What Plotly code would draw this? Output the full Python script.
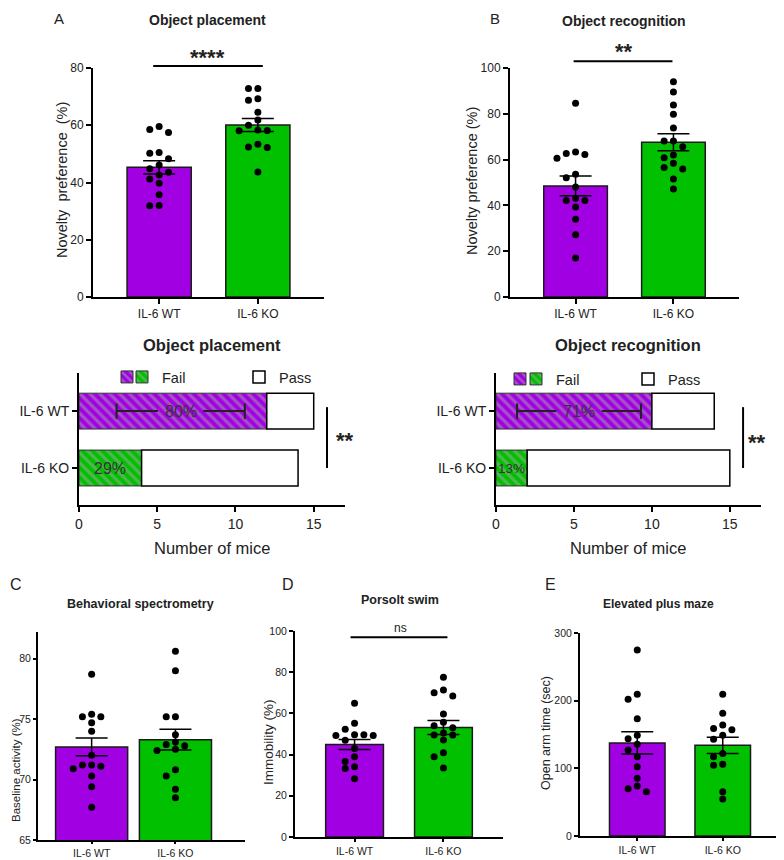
import plotly.graph_objects as go

# the page body keeps an 8px margin, so the figure is drawn 8px smaller and
# reference pixel positions are shifted by that offset
OFF = 8
W, H = 784 - OFF, 860 - OFF
FONT = "Liberation Sans, Arial, sans-serif"
INK = "#222222"
PURPLE = "#a100e3"
GREEN = "#00c000"
HATCH = "#a8a8a8"
GROUPS = ["IL-6 WT", "IL-6 KO"]

# A - object placement, novelty preference (%)
op_wt = [59.6, 58.5, 57.5, 50.5, 50.2, 48.3, 46.1, 44.8, 43.6, 42.6, 41.2, 39.7, 35.7, 32.0, 31.9]
op_ko = [72.8, 72.8, 69.3, 68.7, 64.5, 61.8, 60.0, 58.3, 58.2, 58.1, 53.4, 52.4, 52.2, 43.7]
op_mean = [45.3, 60.1]
op_sem = [2.3, 2.3]

# B - object recognition, novelty preference (%)
or_wt = [84.6, 63.3, 62.7, 62.2, 60.6, 53.6, 52.1, 48.0, 43.1, 42.1, 42.1, 39.3, 33.9, 27.2, 17.0]
or_ko = [94.0, 89.5, 83.8, 79.8, 73.8, 68.1, 68.1, 65.6, 62.0, 60.8, 58.4, 56.6, 55.9, 51.5, 47.2]
or_mean = [48.5, 67.6]
or_sem = [4.3, 3.7]

# pass / fail counts (WT, KO) and WT confidence interval
op_fail = [12, 4]
op_total = [15, 14]
op_ci = [2.4, 10.6]
or_fail = [10, 2]
or_total = [14, 15]
or_ci = [1.35, 9.3]

# C - behavioral spectrometry, baseline activity (%)
bs_wt = [78.7, 75.4, 75.2, 75.2, 74.7, 74.0, 72.0, 71.2, 71.2, 71.1, 70.9, 70.3, 69.4, 67.7]
bs_ko = [80.6, 79.0, 75.2, 75.2, 73.7, 73.1, 72.9, 72.8, 72.5, 72.4, 70.8, 70.3, 69.2, 68.5]
bs_mean = [72.7, 73.3]
bs_sem = [0.73, 0.85]

# D - Porsolt swim, immobility (%)
fs_wt = [64.9, 55.2, 52.3, 49.6, 49.6, 49.3, 49.3, 47.0, 43.0, 39.0, 36.6, 34.1, 33.2, 28.3]
fs_ko = [77.5, 71.4, 70.0, 68.4, 59.7, 55.7, 54.0, 53.0, 50.5, 49.5, 49.5, 47.1, 40.9, 39.0, 33.5]
fs_mean = [44.9, 53.2]
fs_sem = [2.4, 3.4]

# E - elevated plus maze, open arm time (sec)
pm_wt = [274.9, 209.4, 202.0, 173.4, 148.8, 143.8, 135.5, 127.0, 117.2, 102.4, 85.3, 73.9, 69.9, 65.4]
pm_ko = [209.4, 181.3, 164.0, 159.0, 157.0, 149.0, 143.0, 122.0, 117.0, 106.0, 104.5, 65.4, 54.7]
pm_mean = [137.5, 134.0]
pm_sem = [16.5, 12.0]


def ids(n):
    return ("x", "y") if n == 1 else (f"x{n}", f"y{n}")


def px(x):
    return (x - OFF) / W


def py(y):
    return 1 - (y - OFF) / H


def dom_x(a, b):
    return [px(a), px(b)]


def dom_y(top, bottom):
    return [py(bottom), py(top)]


def swarm(values, center, dy, dx):
    """Simple deterministic beeswarm: centre first, then alternate sides."""
    placed = []
    xs = [center] * len(values)
    for i in sorted(range(len(values)), key=lambda j: -values[j]):
        v = values[i]
        for k in [0, -1, 1, -2, 2, -3, 3]:
            if all(abs(v - pv) >= dy for pv, pk in placed if pk == k):
                break
        placed.append((v, k))
        xs[i] = center + k * dx
    return xs


def axis_style(size, ticklen=5):
    return dict(
        showline=True, linecolor="black", linewidth=2,
        ticks="outside", ticklen=ticklen, tickwidth=2, tickcolor="black",
        showgrid=False, zeroline=False, automargin=False,
        tickfont=dict(family=FONT, size=size, color=INK),
    )


def text(x, y, s, size, bold=False, angle=0, anchor="center", yanchor="middle"):
    return dict(
        x=px(x), y=py(y), xref="paper", yref="paper",
        text=f"<b>{s}</b>" if bold else s, showarrow=False,
        font=dict(family=FONT, size=size, color=INK),
        xanchor=anchor, yanchor=yanchor, textangle=angle,
    )


fig = go.Figure()
layout = {}
annotations = []
shapes = []


def bar_panel(n, wt, ko, mean, sem, xdom, ydom, yrange, dtick, dx,
              width=0.65, xrange=(-0.67, 1.67), fs=12, xticklen=5, yticklen=5):
    xa, ya = ids(n)
    fig.add_trace(go.Bar(
        x=[0, 1], y=mean, width=width, xaxis=xa, yaxis=ya, showlegend=False,
        marker=dict(color=[PURPLE, GREEN], line=dict(color="#1a1a1a", width=1.5)),
        error_y=dict(type="data", array=sem, color="black", thickness=1.5, width=16),
    ))
    dy = (yrange[1] - yrange[0]) * 0.032
    for c, vals in enumerate([wt, ko]):
        fig.add_trace(go.Scatter(
            x=swarm(vals, c, dy, dx), y=vals, mode="markers", xaxis=xa, yaxis=ya,
            marker=dict(color="black", size=7), showlegend=False, hoverinfo="y",
        ))
    key = "" if n == 1 else str(n)
    layout[f"xaxis{key}"] = dict(
        domain=xdom, range=list(xrange), tickvals=[0, 1], ticktext=GROUPS,
        anchor=ya, **axis_style(fs, xticklen))
    layout[f"yaxis{key}"] = dict(
        domain=ydom, range=list(yrange), dtick=dtick, tick0=yrange[0],
        anchor=xa, **axis_style(fs, yticklen))


def hbar_panel(n, fail, total, ci, legends, fail_width, xdom, ydom, pct_sizes):
    xa, ya = ids(n)
    passed = [t - f for t, f in zip(total, fail)]
    fail_traces = [(PURPLE, " ", legends[0], None), (GREEN, "Fail", legends[1], fail_width)]
    for row, (color, name, leg, lw) in enumerate(fail_traces):
        fig.add_trace(go.Bar(
            y=[1 - row], x=[fail[row]], orientation="h", width=0.63,
            xaxis=xa, yaxis=ya, name=name, legend=leg, legendwidth=lw,
            marker=dict(color=color, line=dict(color="#333333", width=1),
                        pattern=dict(shape="\\", fgcolor=HATCH, size=7, solidity=0.45)),
        ))
    fig.add_trace(go.Bar(
        y=[1, 0], x=passed, base=fail, orientation="h", width=0.63,
        xaxis=xa, yaxis=ya, name="Pass", legend=legends[1],
        marker=dict(color="white", line=dict(color="black", width=1.5)),
    ))
    # CI whisker for WT, broken where the percentage label sits
    mid = (ci[0] + ci[1]) / 2
    fig.add_trace(go.Scatter(
        x=[ci[0], mid - 1.45, None, mid + 1.45, ci[1]], y=[1, 1, None, 1, 1],
        mode="lines", line=dict(color=INK, width=2), xaxis=xa, yaxis=ya,
        showlegend=False, hoverinfo="skip",
    ))
    fig.add_trace(go.Scatter(
        x=ci, y=[1, 1], mode="markers", xaxis=xa, yaxis=ya, showlegend=False,
        marker=dict(symbol="line-ns-open", size=11, color=INK, line=dict(color=INK, width=2)),
        hoverinfo="skip",
    ))
    pcts = [f"{round(100 * f / t)}%" for f, t in zip(fail, total)]
    xs = [mid, fail[1] / 2]
    for row in range(2):
        annotations.append(dict(
            x=xs[row], y=1 - row, xref=xa, yref=ya, text=pcts[row], showarrow=False,
            font=dict(family=FONT, size=pct_sizes[row], color="#333333"),
        ))
    key = str(n)
    layout[f"xaxis{key}"] = dict(domain=xdom, range=[0, 17], dtick=5, anchor=ya, **axis_style(14))
    layout[f"yaxis{key}"] = dict(domain=ydom, range=[-0.65, 1.67], tickvals=[1, 0],
                                 ticktext=GROUPS, anchor=xa, **axis_style(14))
    shapes.append(dict(type="line", xref=xa, yref=ya, x0=15.85, x1=15.85, y0=0.0, y1=1.07,
                       line=dict(color="black", width=2)))


bar_panel(1, op_wt, op_ko, op_mean, op_sem, dom_x(93, 324), dom_y(68, 297), (0, 80), 20, 0.095)
bar_panel(2, or_wt, or_ko, or_mean, or_sem, dom_x(510, 739), dom_y(68, 297), (0, 100), 20, 0.095)
hbar_panel(3, op_fail, op_total, op_ci, ("legend", "legend2"), 72,
           dom_x(79, 345), dom_y(373, 505), [16, 16])
hbar_panel(4, or_fail, or_total, or_ci, ("legend3", "legend4"), 67,
           dom_x(496, 761), dom_y(373, 505), [16, 13.5])
bar_panel(5, bs_wt, bs_ko, bs_mean, bs_sem, dom_x(38, 245), dom_y(632, 840), (65, 82.2), 5, 0.11,
          width=0.86, xrange=(-0.64, 1.83), fs=10.5, xticklen=2, yticklen=3)
bar_panel(6, fs_wt, fs_ko, fs_mean, fs_sem, dom_x(295, 503), dom_y(631, 837), (0, 100), 20, 0.105,
          fs=10.5, xticklen=3, yticklen=4)
bar_panel(7, pm_wt, pm_ko, pm_mean, pm_sem, dom_x(580, 780), dom_y(633, 836), (0, 300), 100, 0.107,
          fs=10.5, xticklen=3, yticklen=4)

# significance bars above the vertical bar charts
for xa, ya, x0, x1, y in [("x", "y", -0.06, 1.05, 1.009), ("x2", "y2", -0.02, 0.99, 1.03)]:
    shapes.append(dict(type="line", xref=xa, yref=f"{ya} domain", x0=x0, x1=x1, y0=y, y1=y,
                       line=dict(color="black", width=2)))
shapes.append(dict(type="line", xref="x6", yref="y6", x0=-0.045, x1=1.045, y0=97, y1=97,
                   line=dict(color="black", width=2)))

annotations += [
    text(52, OFF, "A", 15, anchor="left", yanchor="top"),
    text(488, OFF, "B", 15, anchor="left", yanchor="top"),
    text(8, 584, "C", 16, anchor="left"),
    text(280, 584, "D", 16, anchor="left"),
    text(543, 584, "E", 16, anchor="left"),
    text(208, 20, "Object placement", 14, bold=True),
    text(624, 21, "Object recognition", 14, bold=True),
    text(212, 345, "Object placement", 16.5, bold=True),
    text(628, 345, "Object recognition", 16.5, bold=True),
    text(140, 604, "Behavioral spectrometry", 12.5, bold=True),
    text(400, 600, "Porsolt swim", 12.5, bold=True),
    text(658, 604, "Elevated plus maze", 12, bold=True),
    text(208, 58, "****", 22, bold=True),
    text(624, 52, "**", 22, bold=True),
    text(400, 628, "ns", 12),
    text(345, 440, "**", 22, bold=True),
    text(757, 442, "**", 22, bold=True),
    text(62, 180, "Novelty  preference  (%)", 14.5, angle=-90),
    text(472, 181, "Novelty preference (%)", 14.5, angle=-90),
    text(212, 548, "Number of mice", 16.5),
    text(628, 548, "Number of mice", 16.5),
    text(16, 770, "Baseline activity (%)", 11.5, angle=-90),
    text(268, 742, "Immobility (%)", 13.5, angle=-90),
    text(546, 733, "Open arm time (sec)", 12.5, angle=-90),
]

legend_style = dict(
    orientation="h", xanchor="left", yanchor="middle", bgcolor="rgba(0,0,0,0)",
    font=dict(family=FONT, size=14.5, color=INK), itemwidth=30, itemclick=False,
)

fig.update_layout(
    width=W, height=H, margin=dict(l=0, r=0, t=0, b=0, autoexpand=False),
    paper_bgcolor="white", plot_bgcolor="white",
    barmode="overlay", font=dict(family=FONT, color=INK),
    annotations=annotations, shapes=shapes,
    legend=dict(x=px(107), y=py(377), **legend_style),
    legend2=dict(x=px(122), y=py(377), **legend_style),
    legend3=dict(x=px(500), y=py(379), **legend_style),
    legend4=dict(x=px(516), y=py(379), **legend_style),
    **layout,
)

fig.write_html("out.html")
